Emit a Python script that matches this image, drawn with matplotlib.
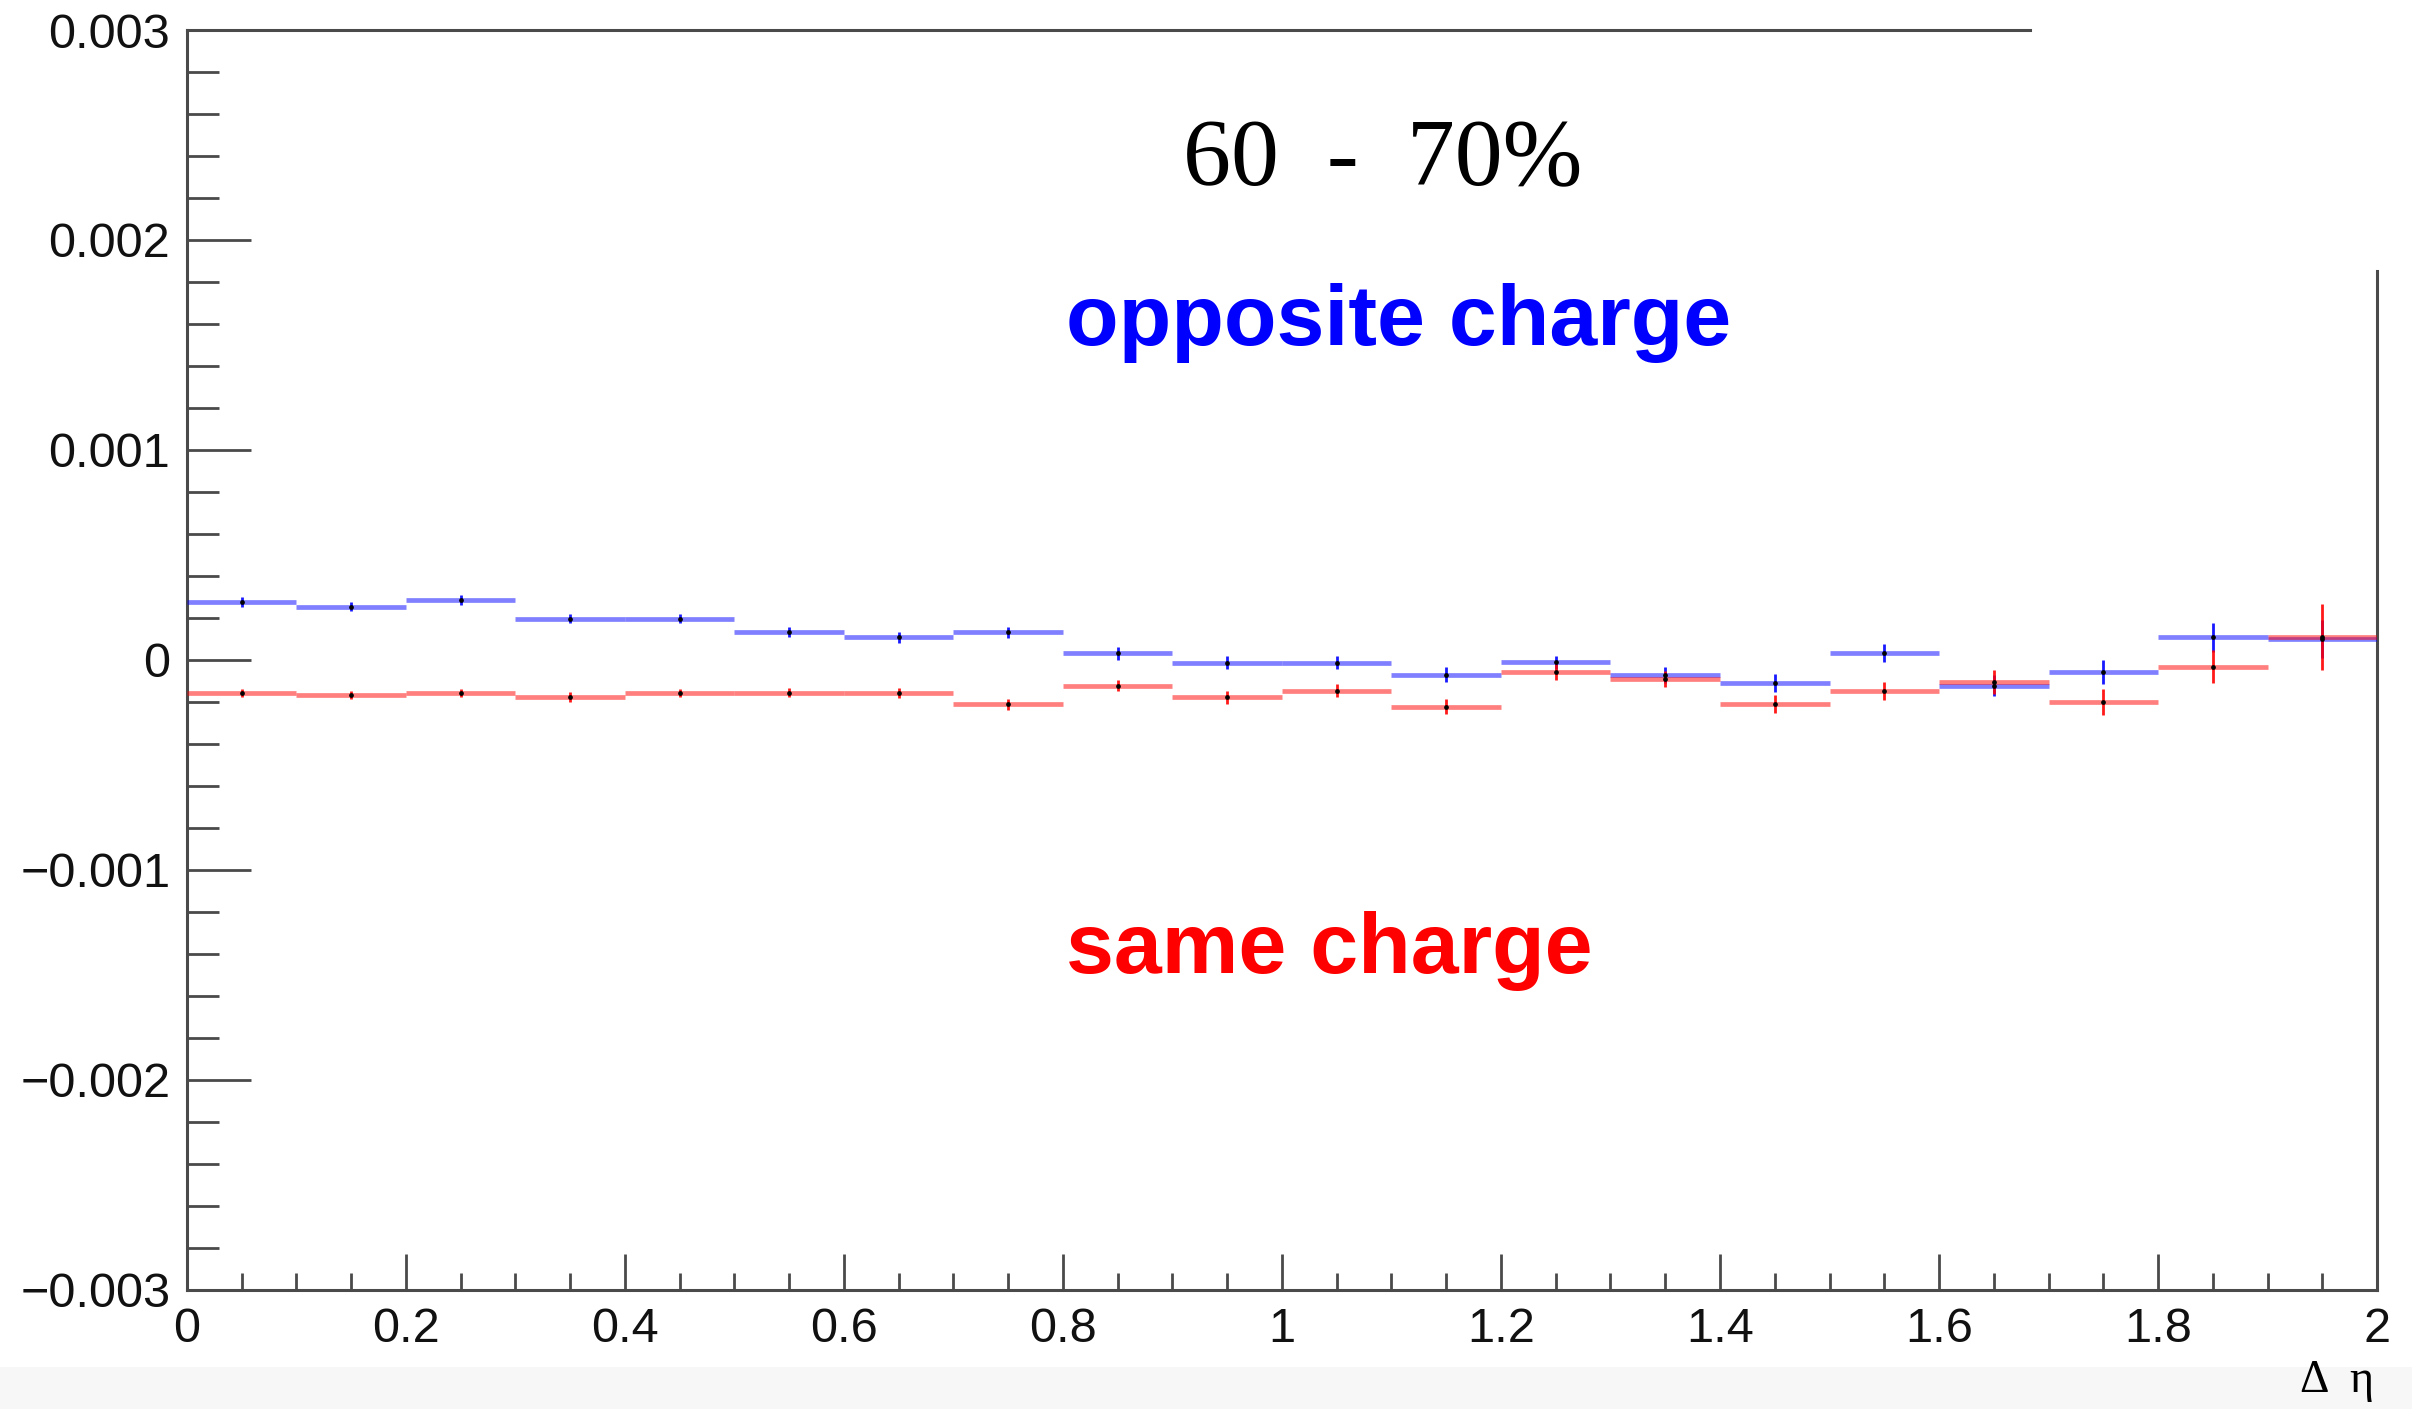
import numpy as np
import matplotlib
matplotlib.use("Agg")
import matplotlib.pyplot as plt
from matplotlib.patches import Rectangle

# Delta-eta binning (20 bins from 0 to 2)
bin_edges = [0.0, 0.1, 0.2, 0.3, 0.4, 0.5, 0.6, 0.7, 0.8, 0.9, 1.0,
             1.1, 1.2, 1.3, 1.4, 1.5, 1.6, 1.7, 1.8, 1.9, 2.0]

# Opposite-charge correlator per bin
opposite_vals = [2.76e-4, 2.54e-4, 2.87e-4, 1.97e-4, 1.97e-4, 1.33e-4, 1.08e-4, 1.33e-4,
                 0.32e-4, -0.13e-4, -0.13e-4, -0.70e-4, -0.11e-4, -0.71e-4, -1.11e-4,
                 0.32e-4, -1.22e-4, -0.57e-4, 1.08e-4, 1.00e-4]
opposite_errs = [2.2e-5, 2.2e-5, 2.3e-5, 2.2e-5, 2.2e-5, 2.4e-5, 2.6e-5, 2.6e-5,
                 3.0e-5, 3.0e-5, 3.2e-5, 3.5e-5, 3.0e-5, 3.8e-5, 4.2e-5,
                 4.3e-5, 5.0e-5, 5.8e-5, 7.0e-5, 9.0e-5]

# Same-charge correlator per bin
same_vals = [-1.56e-4, -1.67e-4, -1.56e-4, -1.76e-4, -1.56e-4, -1.56e-4, -1.56e-4, -2.11e-4,
             -1.22e-4, -1.78e-4, -1.46e-4, -2.22e-4, -0.57e-4, -0.89e-4, -2.11e-4,
             -1.46e-4, -1.05e-4, -2.00e-4, -0.32e-4, 1.11e-4]
same_errs = [2.0e-5, 2.0e-5, 2.0e-5, 2.2e-5, 2.0e-5, 2.2e-5, 2.4e-5, 2.6e-5,
             2.8e-5, 3.0e-5, 3.2e-5, 3.5e-5, 3.6e-5, 3.8e-5, 4.3e-5,
             4.3e-5, 5.5e-5, 6.0e-5, 7.9e-5, 1.57e-4]

x_ticks = [0, 0.2, 0.4, 0.6, 0.8, 1.0, 1.2, 1.4, 1.6, 1.8, 2.0]
x_tick_labels = ["0", "0.2", "0.4", "0.6", "0.8", "1", "1.2", "1.4", "1.6", "1.8", "2"]
y_ticks = [-0.003, -0.002, -0.001, 0.0, 0.001, 0.002, 0.003]
y_tick_labels = ["\u22120.003", "\u22120.002", "\u22120.001", "0", "0.001", "0.002", "0.003"]

centrality_label = "60  -  70%"
opposite_label = "opposite charge"
same_label = "same charge"
x_axis_label = "\u0394  \u03b7"

SANS = ["Liberation Sans", "DejaVu Sans"]
SERIF = ["Liberation Serif", "DejaVu Serif"]
AXIS_COLOR = "#4a4a4a"

fig = plt.figure(figsize=(24.12, 14.09), dpi=100)
fig.patch.set_facecolor("white")
# faint grey strip along the very bottom of the canvas
fig.patches.append(Rectangle((0, 0), 1, 0.03, transform=fig.transFigure,
                             facecolor="#f7f7f7", edgecolor="none", zorder=-10))

ax = fig.add_axes([0.0775, 0.0845, 0.908, 0.8942])
ax.set_facecolor("white")

edges = np.array(bin_edges)
lo, hi = edges[:-1], edges[1:]
centers = 0.5 * (lo + hi)


def draw_hist(vals, errs, color):
    vals = np.asarray(vals)
    errs = np.asarray(errs)
    ax.hlines(vals, lo, hi, colors=color, linewidth=3.4, alpha=0.5, zorder=3)
    ax.vlines(centers, vals - errs, vals + errs, colors=color, linewidth=2.0,
              alpha=0.9, zorder=4)
    ax.plot(centers, vals, linestyle="none", marker="o", markersize=2.4,
            color="black", zorder=5)


draw_hist(opposite_vals, opposite_errs, "#0000ff")
draw_hist(same_vals, same_errs, "#ff0000")

ax.set_xlim(0, 2)
ax.set_ylim(-0.003, 0.003)

ax.set_xticks(x_ticks)
ax.set_xticklabels(x_tick_labels)
ax.set_xticks(np.arange(0, 2.0001, 0.05), minor=True)
ax.set_yticks(y_ticks)
ax.set_yticklabels(y_tick_labels)
ax.set_yticks(np.arange(-0.003, 0.00301, 0.0002), minor=True)

ax.tick_params(axis="x", which="major", direction="in", length=26, width=2.0,
               color=AXIS_COLOR, labelsize=35, pad=12, top=False)
ax.tick_params(axis="x", which="minor", direction="in", length=12, width=2.0,
               color=AXIS_COLOR, top=False)
ax.tick_params(axis="y", which="major", direction="in", length=46, width=2.0,
               color=AXIS_COLOR, labelsize=35, pad=12, right=False)
ax.tick_params(axis="y", which="minor", direction="in", length=23, width=2.0,
               color=AXIS_COLOR, right=False)
for lab in ax.get_xticklabels() + ax.get_yticklabels():
    lab.set_family(SANS)
    lab.set_color("#111111")

for side in ["left", "bottom", "top", "right"]:
    ax.spines[side].set_color(AXIS_COLOR)
    ax.spines[side].set_linewidth(2.2)
ax.spines["top"].set_bounds(0, 1.683)
ax.spines["right"].set_bounds(-0.003, 0.00185)

ax.text(1.092, 0.00226, centrality_label, ha="center", va="baseline",
        fontsize=69, family=SERIF, color="black")
ax.text(0.803, 0.00150, opposite_label, ha="left", va="baseline",
        fontsize=62, family=SANS, fontweight="bold", color="#0000ff")
ax.text(0.803, -0.00149, same_label, ha="left", va="baseline",
        fontsize=62, family=SANS, fontweight="bold", color="#ff0000")

ax.text(0.9985, -0.081, x_axis_label, transform=ax.transAxes, ha="right", va="baseline",
        fontsize=33, family=SERIF, color="black")

fig.savefig("out.png", dpi=100, facecolor=fig.get_facecolor())
